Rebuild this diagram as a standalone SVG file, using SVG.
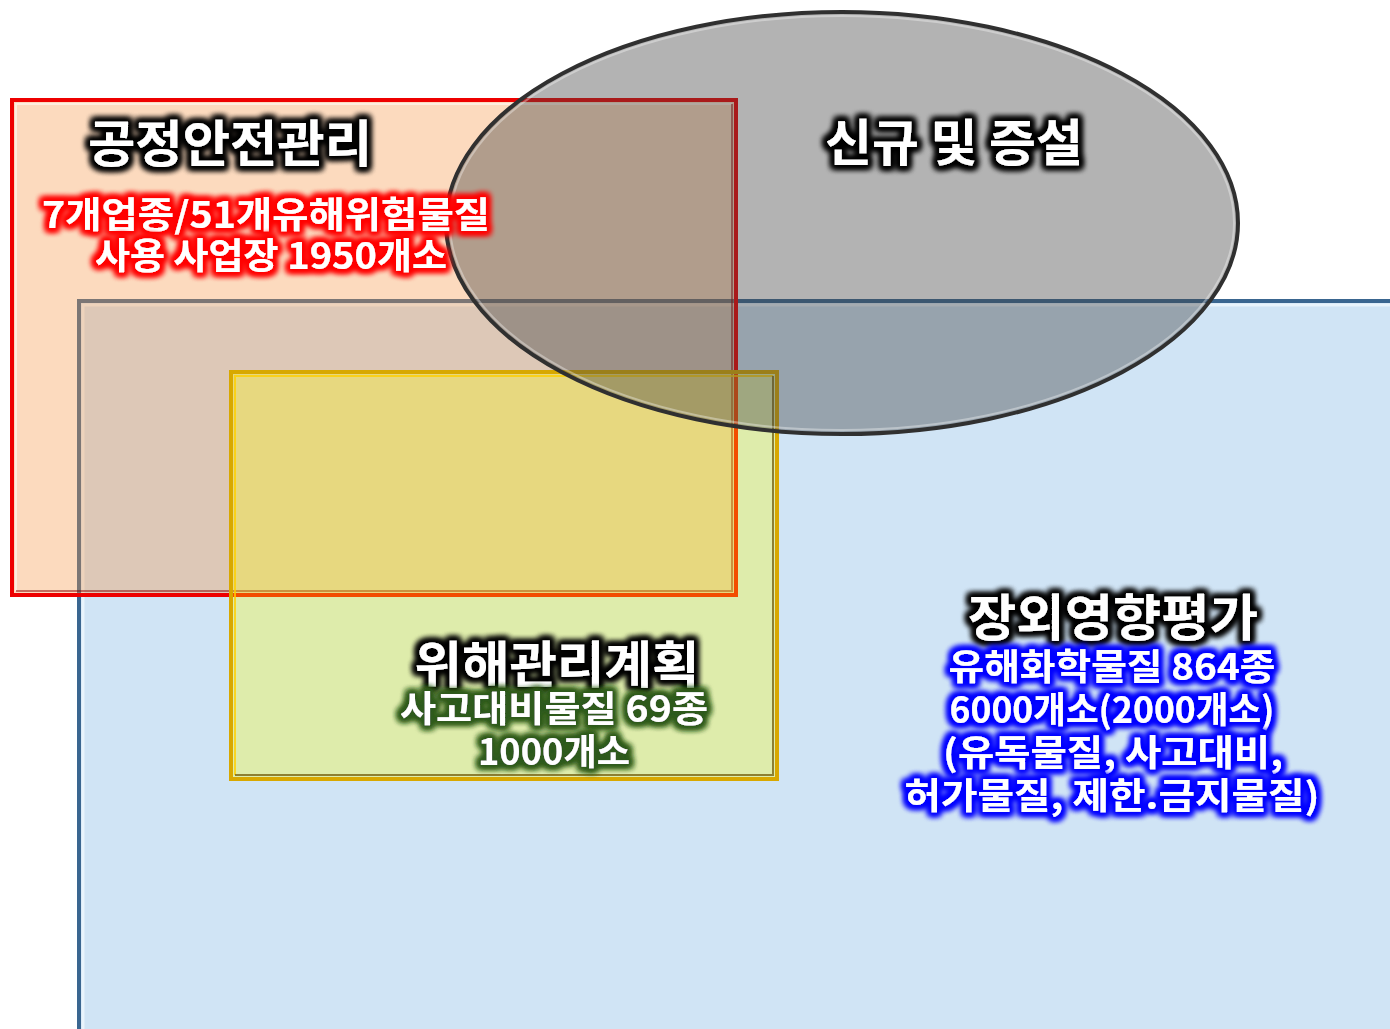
<svg xmlns="http://www.w3.org/2000/svg" width="1390" height="1029" viewBox="0 0 1390 1029">
<defs>
<style>
.t{font-family:"Noto Sans CJK KR","Malgun Gothic",sans-serif;font-weight:700;fill:#fff;text-anchor:middle}
.big{font-size:50px}
.sm{font-size:36px}
</style>
<filter id="gk" x="-20%" y="-50%" width="140%" height="200%">
<feMorphology in="SourceAlpha" operator="dilate" radius="3" result="d"/>
<feGaussianBlur in="d" stdDeviation="3" result="b"/>
<feFlood flood-color="#000"/>
<feComposite in2="b" operator="in" result="g"/>
<feMerge><feMergeNode in="g"/><feMergeNode in="g"/><feMergeNode in="g"/><feMergeNode in="SourceGraphic"/></feMerge>
</filter>
<filter id="gr" x="-20%" y="-50%" width="140%" height="200%">
<feMorphology in="SourceAlpha" operator="dilate" radius="3" result="d"/>
<feGaussianBlur in="d" stdDeviation="3" result="b"/>
<feFlood flood-color="#ff0000"/>
<feComposite in2="b" operator="in" result="g"/>
<feMerge><feMergeNode in="g"/><feMergeNode in="g"/><feMergeNode in="g"/><feMergeNode in="SourceGraphic"/></feMerge>
</filter>
<filter id="gg" x="-20%" y="-50%" width="140%" height="200%">
<feMorphology in="SourceAlpha" operator="dilate" radius="3" result="d"/>
<feGaussianBlur in="d" stdDeviation="3" result="b"/>
<feFlood flood-color="#2f5a1e"/>
<feComposite in2="b" operator="in" result="g"/>
<feMerge><feMergeNode in="g"/><feMergeNode in="g"/><feMergeNode in="g"/><feMergeNode in="SourceGraphic"/></feMerge>
</filter>
<filter id="gb" x="-20%" y="-50%" width="140%" height="200%">
<feMorphology in="SourceAlpha" operator="dilate" radius="3" result="d"/>
<feGaussianBlur in="d" stdDeviation="3" result="b"/>
<feFlood flood-color="#0000ff"/>
<feComposite in2="b" operator="in" result="g"/>
<feMerge><feMergeNode in="g"/><feMergeNode in="g"/><feMergeNode in="g"/><feMergeNode in="SourceGraphic"/></feMerge>
</filter>
</defs>
<rect width="1390" height="1029" fill="#fff"/>

<g id="offsite">
<rect x="79" y="301" width="1320" height="740" fill="#d0e4f5" stroke="#3a6690" stroke-width="4"/>
<path d="M83 1029 V305 H1390" fill="none" stroke="#f4fbff" stroke-width="3" opacity="0.7"/>
</g>

<g id="psm">
<rect x="12" y="100" width="724" height="495" fill="#f79646" fill-opacity="0.35" stroke="#ee0000" stroke-width="4"/>
<path d="M16 591 V104 H732" fill="none" stroke="#fff" stroke-width="2" opacity="0.5"/>
<path d="M16 591 H732 V104" fill="none" stroke="#8a0000" stroke-width="2" opacity="0.5"/>
</g>

<g id="rmp">
<rect x="231" y="372" width="546" height="407" fill="#ffff00" fill-opacity="0.3" stroke="#d8a800" stroke-width="4"/>
<path d="M235 775 V376 H773" fill="none" stroke="#ffd000" stroke-width="2" opacity="0.8"/>
<path d="M235 775 H773 V376" fill="none" stroke="#6a5200" stroke-width="2" opacity="0.7"/>
</g>

<g id="new">
<ellipse cx="842" cy="223" rx="396" ry="211" fill="#404040" fill-opacity="0.4" stroke="#303030" stroke-width="4"/>
<ellipse cx="842" cy="223" rx="392" ry="207" fill="none" stroke="#fff" stroke-width="2" opacity="0.35"/>
</g>

<g id="labels">
<text class="t big" x="230" y="162" textLength="284" lengthAdjust="spacingAndGlyphs" filter="url(#gk)">공정안전관리</text>
<text class="t sm" x="266" y="228" textLength="448" lengthAdjust="spacingAndGlyphs" filter="url(#gr)">7개업종/51개유해위험물질</text>
<text class="t sm" x="271" y="269" textLength="352" lengthAdjust="spacingAndGlyphs" filter="url(#gr)">사용 사업장 1950개소</text>
<text class="t big" x="954" y="161" textLength="258" lengthAdjust="spacingAndGlyphs" filter="url(#gk)">신규 및 증설</text>
<text class="t big" x="557" y="683" textLength="285" lengthAdjust="spacingAndGlyphs" filter="url(#gk)">위해관리계획</text>
<text class="t sm" x="554" y="722" textLength="308" lengthAdjust="spacingAndGlyphs" filter="url(#gg)">사고대비물질 69종</text>
<text class="t sm" x="554" y="765" textLength="152" lengthAdjust="spacingAndGlyphs" filter="url(#gg)">1000개소</text>
<text class="t big" x="1113" y="636" textLength="290" lengthAdjust="spacingAndGlyphs" filter="url(#gk)">장외영향평가</text>
<text class="t sm" x="1112" y="680" textLength="327" lengthAdjust="spacingAndGlyphs" filter="url(#gb)">유해화학물질 864종</text>
<text class="t sm" x="1112" y="723" textLength="325" lengthAdjust="spacingAndGlyphs" filter="url(#gb)">6000개소(2000개소)</text>
<text class="t sm" x="1113" y="766" textLength="340" lengthAdjust="spacingAndGlyphs" filter="url(#gb)">(유독물질, 사고대비,</text>
<text class="t sm" x="1112" y="809" textLength="415" lengthAdjust="spacingAndGlyphs" filter="url(#gb)">허가물질, 제한.금지물질)</text>
</g>
</svg>
